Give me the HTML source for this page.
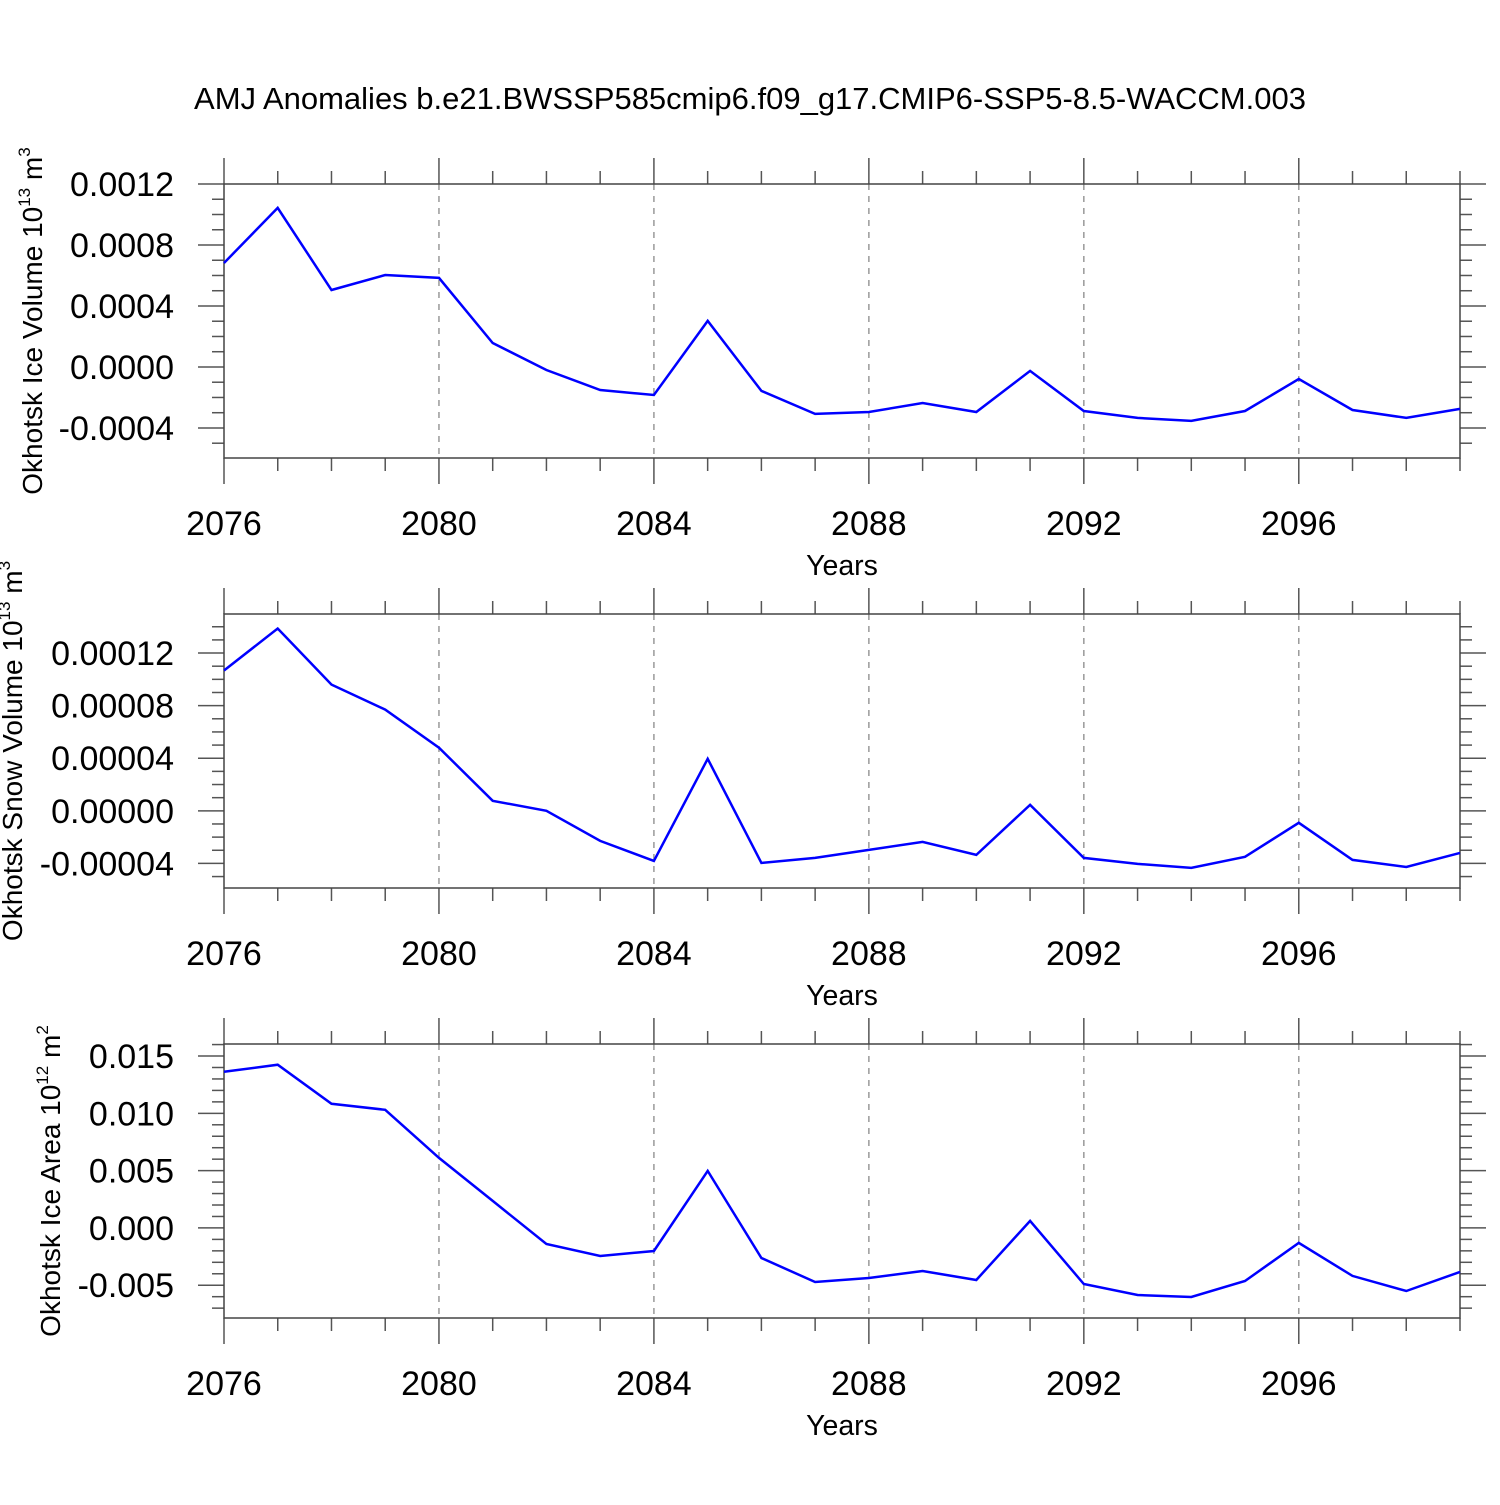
<!DOCTYPE html>
<html><head><meta charset="utf-8"><style>
body{margin:0;background:#fff}
svg text{font-family:"Liberation Sans",sans-serif;fill:#000}
</style></head><body>
<svg id="c" width="1500" height="1500" xmlns="http://www.w3.org/2000/svg">
<text x="750" y="109" font-size="31" text-anchor="middle">AMJ Anomalies b.e21.BWSSP585cmip6.f09_g17.CMIP6-SSP5-8.5-WACCM.003</text>
</svg>
<script>
const years=[2076,2077,2078,2079,2080,2081,2082,2083,2084,2085,2086,2087,2088,2089,2090,2091,2092,2093,2094,2095,2096,2097,2098,2099];
const iceVolume=[0.000682,0.001043,0.000505,0.000603,0.000584,0.000157,-0.00002,-0.000151,-0.000184,0.000302,-0.000157,-0.000308,-0.000295,-0.000236,-0.000295,-0.000026,-0.000289,-0.000334,-0.000354,-0.000289,-0.000079,-0.000282,-0.000334,-0.000275];
const snowVolume=[0.0001067,0.0001387,0.000096,0.000077,0.000048,0.0000076,0,-0.0000229,-0.0000381,0.0000396,-0.0000396,-0.0000358,-0.0000297,-0.0000236,-0.0000335,0.0000046,-0.0000358,-0.0000404,-0.0000434,-0.000035,-0.0000091,-0.0000373,-0.0000427,-0.000032];
const iceArea=[0.01362,0.01424,0.01083,0.01031,0.00611,0.00236,-0.0014,-0.00245,-0.00201,0.00498,-0.00262,-0.00472,-0.00437,-0.00376,-0.00454,0.00061,-0.00489,-0.00585,-0.00603,-0.00463,-0.00131,-0.00419,-0.0055,-0.00384];
const xTickLabels=["2076","2080","2084","2088","2092","2096"];
const iceVolTicks=["0.0012","0.0008","0.0004","0.0000","-0.0004"];
const snowVolTicks=["0.00012","0.00008","0.00004","0.00000","-0.00004"];
const iceAreaTicks=["0.015","0.010","0.005","0.000","-0.005"];
const NS="http://www.w3.org/2000/svg";
const svg=document.getElementById('c');
function mk(tag,attrs,parent){const e=document.createElementNS(NS,tag);for(const k in attrs)e.setAttribute(k,attrs[k]);(parent||svg).appendChild(e);return e;}
const X0=224,X1=1460;
function xs(yr){return X0+(yr-2076)/(2099-2076)*(X1-X0);}
const panels=[
 {top:184,bot:458,vmin:-0.000597,vmax:0.0012,data:iceVolume,ticks:iceVolTicks,major:0.0004,minor:0.0001,title:"Okhotsk Ice Volume 10",exp:"13",unit:" m",uexp:"3",tx:32,name:"ice-volume"},
 {top:614,bot:888,vmin:-0.0000587,vmax:0.0001497,data:snowVolume,ticks:snowVolTicks,major:0.00004,minor:0.00001,title:"Okhotsk Snow Volume 10",exp:"13",unit:" m",uexp:"3",tx:12,name:"snow-volume"},
 {top:1044,bot:1318,vmin:-0.00786,vmax:0.01605,data:iceArea,ticks:iceAreaTicks,major:0.005,minor:0.001,title:"Okhotsk Ice Area 10",exp:"12",unit:" m",uexp:"2",tx:50,name:"ice-area"}
];
panels.forEach(p=>{
 const g=mk('g',{});
 
 
 const ys=v=>p.bot-(v-p.vmin)/(p.vmax-p.vmin)*(p.bot-p.top);
 for(let yr=2080;yr<=2096;yr+=4){const l=mk('line',{x1:xs(yr),x2:xs(yr),y1:p.top,y2:p.bot,stroke:'#999','stroke-width':1.5,'stroke-dasharray':'6,6'},g);
  }
 years.forEach(yr=>{const maj=(yr-2076)%4===0;const L=maj?26:13;const x=xs(yr);
  mk('line',{x1:x,x2:x,y1:p.top,y2:p.top-L,stroke:'#555','stroke-width':1.5},g);
  mk('line',{x1:x,x2:x,y1:p.bot,y2:p.bot+L,stroke:'#555','stroke-width':1.5},g);});
 xTickLabels.forEach(t=>{const e=mk('text',{x:xs(+t),y:p.bot+77,'font-size':34,'text-anchor':'middle'},g);e.textContent=t;
  });
 const xt=mk('text',{x:842,y:p.bot+117,'font-size':28.5,'text-anchor':'middle'},g);xt.textContent='Years';
 
 const n0=Math.ceil(p.vmin/p.minor-1e-6),n1=Math.floor(p.vmax/p.minor+1e-6);
 const ratio=Math.round(p.major/p.minor);
 for(let n=n0;n<=n1;n++){const v=n*p.minor;const y=ys(v);const maj=n%ratio===0;const L=maj?26:12;
  mk('line',{x1:X0,x2:X0-L,y1:y,y2:y,stroke:'#555','stroke-width':1.5},g);
  mk('line',{x1:X1,x2:X1+L,y1:y,y2:y,stroke:'#555','stroke-width':1.5},g);}
 p.ticks.forEach(t=>{const e=mk('text',{x:174,y:ys(parseFloat(t))+12,'font-size':34,'text-anchor':'end'},g);e.textContent=t;
  });
 const b=mk('rect',{x:X0,y:p.top,width:X1-X0,height:p.bot-p.top,fill:'none',stroke:'#444','stroke-width':1.5},g);
 
 const pts=p.data.map((v,i)=>xs(years[i]).toFixed(1)+','+ys(v).toFixed(1)).join(' ');
 const pl=mk('polyline',{points:pts,fill:'none',stroke:'#0000ff','stroke-width':2.5},g);
 
 const cy=(p.top+p.bot)/2;
 const yt=mk('text',{x:0,y:0,'font-size':28,'text-anchor':'middle',transform:`translate(${p.tx+10},${cy}) rotate(-90)`},g);
 
 yt.appendChild(document.createTextNode(p.title));
 const s1=mk('tspan',{'font-size':17,dy:-12},yt);s1.textContent=p.exp;
 const s2=mk('tspan',{dy:12},yt);s2.textContent=p.unit;
 const s3=mk('tspan',{'font-size':17,dy:-12},yt);s3.textContent=p.uexp;
});
</script>
</body></html>
